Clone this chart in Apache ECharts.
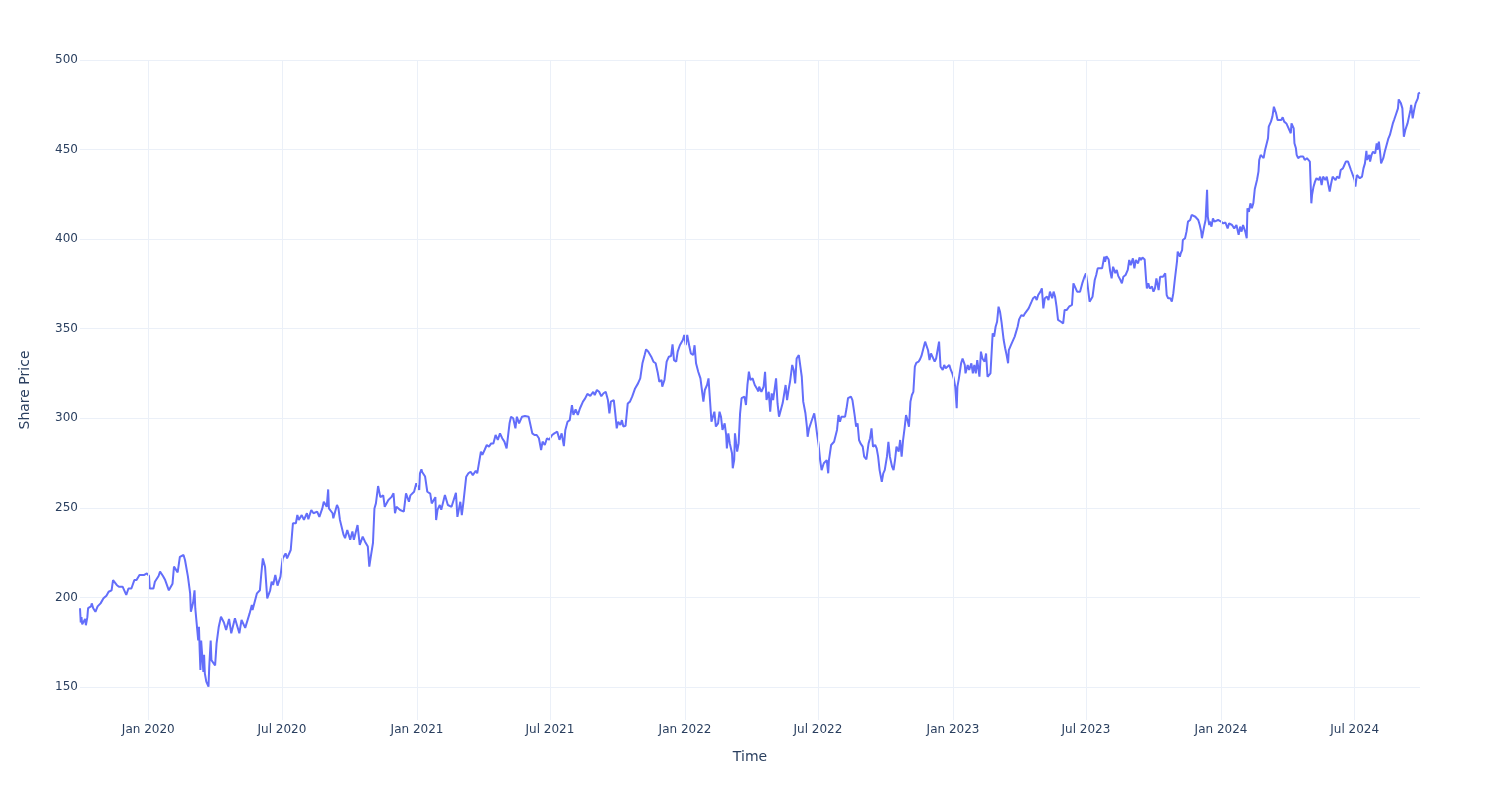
<!DOCTYPE html>
<html>
<head>
<meta charset="utf-8">
<script src="https://cdn.jsdelivr.net/npm/echarts@6/dist/echarts.min.js"></script>
<style>
html,body{margin:0;padding:0;background:#fff;}
#chart{width:1500px;height:800px;}
</style>
</head>
<body>
<div id="chart"></div>
<script>
const dates = [
'2019-09-30','2019-10-01','2019-10-02','2019-10-03','2019-10-07','2019-10-08','2019-10-10','2019-10-11','2019-10-15','2019-10-16','2019-10-18','2019-10-21','2019-10-24','2019-10-28','2019-11-01','2019-11-05','2019-11-08','2019-11-12','2019-11-14','2019-11-19','2019-11-22','2019-11-27','2019-12-02','2019-12-05','2019-12-09','2019-12-13','2019-12-16','2019-12-20','2019-12-26','2019-12-30',
'2020-01-02','2020-01-03','2020-01-08','2020-01-10','2020-01-15','2020-01-17','2020-01-21','2020-01-24','2020-01-29','2020-02-03','2020-02-05','2020-02-10','2020-02-13','2020-02-18','2020-02-20','2020-02-24','2020-02-27','2020-02-28','2020-03-02','2020-03-04','2020-03-05','2020-03-09','2020-03-10','2020-03-11','2020-03-12','2020-03-13','2020-03-16','2020-03-17','2020-03-18','2020-03-20','2020-03-23','2020-03-24','2020-03-26','2020-03-27','2020-04-01','2020-04-03','2020-04-06','2020-04-09','2020-04-13','2020-04-16','2020-04-20','2020-04-23','2020-04-28','2020-05-04','2020-05-07','2020-05-08','2020-05-12','2020-05-18','2020-05-21','2020-05-22','2020-05-28','2020-06-01','2020-06-03','2020-06-05','2020-06-08','2020-06-11','2020-06-15','2020-06-17','2020-06-19','2020-06-22','2020-06-25','2020-06-29','2020-07-02','2020-07-06','2020-07-08','2020-07-13','2020-07-16','2020-07-20','2020-07-22','2020-07-24','2020-07-28','2020-07-31','2020-08-04','2020-08-06','2020-08-10','2020-08-13','2020-08-18','2020-08-21','2020-08-25','2020-08-27','2020-08-31','2020-09-02','2020-09-03','2020-09-08','2020-09-09','2020-09-14','2020-09-16','2020-09-18','2020-09-23','2020-09-25','2020-09-28','2020-10-02','2020-10-05','2020-10-07','2020-10-12','2020-10-13','2020-10-15','2020-10-19','2020-10-22','2020-10-26','2020-10-28','2020-10-30','2020-11-02','2020-11-04','2020-11-06','2020-11-09','2020-11-12','2020-11-16','2020-11-18','2020-11-23','2020-11-27','2020-11-30','2020-12-02','2020-12-04','2020-12-09','2020-12-14','2020-12-17','2020-12-21','2020-12-23','2020-12-28','2020-12-31',
'2021-01-04','2021-01-05','2021-01-07','2021-01-08','2021-01-12','2021-01-15','2021-01-19','2021-01-21','2021-01-22','2021-01-26','2021-01-27','2021-01-29','2021-02-01','2021-02-03','2021-02-08','2021-02-10','2021-02-12','2021-02-17','2021-02-19','2021-02-23','2021-02-25','2021-03-01','2021-03-03','2021-03-05','2021-03-09','2021-03-12','2021-03-15','2021-03-18','2021-03-22','2021-03-24','2021-03-29','2021-03-31','2021-04-03','2021-04-06','2021-04-09','2021-04-12','2021-04-15','2021-04-18','2021-04-21','2021-04-24','2021-04-27','2021-04-30','2021-05-03','2021-05-07','2021-05-09','2021-05-12','2021-05-15','2021-05-17','2021-05-20','2021-05-24','2021-05-28','2021-06-02','2021-06-04','2021-06-07','2021-06-10','2021-06-13','2021-06-16','2021-06-19','2021-06-21','2021-06-24','2021-06-27','2021-06-30','2021-07-04','2021-07-07','2021-07-11','2021-07-14','2021-07-17','2021-07-20','2021-07-22','2021-07-25','2021-07-28','2021-07-31','2021-08-02','2021-08-05','2021-08-08','2021-08-11','2021-08-15','2021-08-18','2021-08-21','2021-08-25','2021-08-29','2021-08-31','2021-09-03','2021-09-06','2021-09-09','2021-09-12','2021-09-15','2021-09-18','2021-09-20','2021-09-22','2021-09-26','2021-09-28','2021-09-30','2021-10-02','2021-10-05','2021-10-07','2021-10-09','2021-10-12','2021-10-15','2021-10-18','2021-10-21','2021-10-25','2021-10-29','2021-11-01','2021-11-04','2021-11-07','2021-11-09','2021-11-12','2021-11-16','2021-11-19','2021-11-22','2021-11-25','2021-11-27','2021-11-30','2021-12-01','2021-12-04','2021-12-07','2021-12-10','2021-12-13','2021-12-15','2021-12-17','2021-12-20','2021-12-22','2021-12-25','2021-12-29','2021-12-31',
'2022-01-02','2022-01-04','2022-01-07','2022-01-09','2022-01-12','2022-01-14','2022-01-16','2022-01-19','2022-01-22','2022-01-24','2022-01-26','2022-01-28','2022-01-31','2022-02-02','2022-02-04','2022-02-06','2022-02-07','2022-02-10','2022-02-12','2022-02-15','2022-02-17','2022-02-19','2022-02-21','2022-02-24','2022-02-26','2022-02-27','2022-03-01','2022-03-03','2022-03-06','2022-03-07','2022-03-09','2022-03-10','2022-03-13','2022-03-15','2022-03-17','2022-03-19','2022-03-23','2022-03-25','2022-03-27','2022-03-29','2022-03-31','2022-04-03','2022-04-06','2022-04-09','2022-04-11','2022-04-12','2022-04-15','2022-04-18','2022-04-20','2022-04-22','2022-04-25','2022-04-27','2022-04-29','2022-05-01','2022-05-05','2022-05-07','2022-05-09','2022-05-11','2022-05-14','2022-05-16','2022-05-18','2022-05-20','2022-05-22','2022-05-24','2022-05-27','2022-05-29','2022-05-31','2022-06-02','2022-06-05','2022-06-07','2022-06-09','2022-06-11','2022-06-14','2022-06-16','2022-06-17','2022-06-19','2022-06-22','2022-06-24','2022-06-26','2022-06-28','2022-06-30','2022-07-02','2022-07-04','2022-07-06','2022-07-09','2022-07-11','2022-07-13','2022-07-15','2022-07-16','2022-07-19','2022-07-21','2022-07-23','2022-07-25','2022-07-27','2022-07-29','2022-07-31','2022-08-02','2022-08-04','2022-08-07','2022-08-09','2022-08-11','2022-08-15','2022-08-17','2022-08-20','2022-08-22','2022-08-24','2022-08-26','2022-08-28','2022-08-31','2022-09-02','2022-09-05','2022-09-08','2022-09-10','2022-09-12','2022-09-14','2022-09-17','2022-09-19','2022-09-21','2022-09-23','2022-09-26','2022-09-28','2022-09-30','2022-10-03','2022-10-05','2022-10-07','2022-10-10','2022-10-12','2022-10-14','2022-10-16','2022-10-19','2022-10-21','2022-10-23','2022-10-25','2022-10-27','2022-10-29','2022-10-31','2022-11-02','2022-11-04','2022-11-06','2022-11-08','2022-11-10','2022-11-12','2022-11-15','2022-11-17','2022-11-19','2022-11-21','2022-11-24','2022-11-26','2022-11-28','2022-11-30','2022-12-02','2022-12-04','2022-12-07','2022-12-09','2022-12-11','2022-12-13','2022-12-15','2022-12-18','2022-12-20','2022-12-22','2022-12-24','2022-12-27','2022-12-29','2022-12-31',
'2023-01-02','2023-01-04','2023-01-06','2023-01-07','2023-01-09','2023-01-12','2023-01-14','2023-01-17','2023-01-18','2023-01-21','2023-01-23','2023-01-26','2023-01-28','2023-01-30','2023-02-01','2023-02-03','2023-02-06','2023-02-08','2023-02-10','2023-02-13','2023-02-15','2023-02-17','2023-02-19','2023-02-21','2023-02-24','2023-02-26','2023-02-28','2023-03-02','2023-03-04','2023-03-06','2023-03-08','2023-03-11','2023-03-13','2023-03-15','2023-03-17','2023-03-18','2023-03-21','2023-03-23','2023-03-26','2023-03-28','2023-03-30','2023-04-01','2023-04-04','2023-04-07','2023-04-09','2023-04-11','2023-04-14','2023-04-16','2023-04-18','2023-04-20','2023-04-23','2023-04-25','2023-04-27','2023-04-30','2023-05-02','2023-05-04','2023-05-06','2023-05-09','2023-05-11','2023-05-13','2023-05-16','2023-05-18','2023-05-20','2023-05-22','2023-05-24','2023-05-26','2023-05-28','2023-05-31','2023-06-02','2023-06-05','2023-06-08','2023-06-12','2023-06-14','2023-06-16','2023-06-19','2023-06-21','2023-06-23','2023-06-26','2023-06-29','2023-07-01','2023-07-03','2023-07-06','2023-07-08','2023-07-10','2023-07-13','2023-07-15','2023-07-17','2023-07-19','2023-07-23','2023-07-26','2023-07-27','2023-07-29','2023-08-01','2023-08-03','2023-08-05','2023-08-07','2023-08-10','2023-08-12','2023-08-14','2023-08-17','2023-08-19','2023-08-21','2023-08-24','2023-08-27','2023-08-29','2023-08-31','2023-09-03','2023-09-05','2023-09-07','2023-09-10','2023-09-12','2023-09-14','2023-09-16','2023-09-19','2023-09-21','2023-09-22','2023-09-24','2023-09-26','2023-09-29','2023-10-01','2023-10-03','2023-10-05','2023-10-08','2023-10-10','2023-10-12','2023-10-14','2023-10-17','2023-10-19','2023-10-21','2023-10-24','2023-10-26','2023-10-28','2023-10-30','2023-11-02','2023-11-03','2023-11-06','2023-11-07','2023-11-09','2023-11-10','2023-11-13','2023-11-15','2023-11-17','2023-11-20','2023-11-22','2023-11-24','2023-11-27','2023-11-29','2023-12-01','2023-12-03','2023-12-05','2023-12-06','2023-12-08','2023-12-09','2023-12-11','2023-12-13','2023-12-14','2023-12-16','2023-12-17','2023-12-19','2023-12-21','2023-12-23','2023-12-25','2023-12-28',
'2024-01-01','2024-01-04','2024-01-07','2024-01-10','2024-01-12','2024-01-16','2024-01-19','2024-01-22','2024-01-25','2024-01-27','2024-01-29','2024-01-31','2024-02-03','2024-02-05','2024-02-06','2024-02-08','2024-02-10','2024-02-12','2024-02-14','2024-02-16','2024-02-19','2024-02-21','2024-02-22','2024-02-24','2024-02-26','2024-02-28','2024-03-01','2024-03-03','2024-03-05','2024-03-06','2024-03-09','2024-03-11','2024-03-13','2024-03-15','2024-03-16','2024-03-18','2024-03-20','2024-03-23','2024-03-25','2024-03-27','2024-03-30','2024-04-01','2024-04-03','2024-04-05','2024-04-06','2024-04-09','2024-04-10','2024-04-12','2024-04-13','2024-04-15','2024-04-18','2024-04-20','2024-04-22','2024-04-24','2024-04-27','2024-04-29','2024-05-01','2024-05-03','2024-05-04','2024-05-06','2024-05-08','2024-05-10','2024-05-13','2024-05-15','2024-05-17','2024-05-19','2024-05-22','2024-05-24','2024-05-26','2024-05-28','2024-05-30','2024-06-01','2024-06-03','2024-06-05','2024-06-07','2024-06-10','2024-06-12','2024-06-15','2024-06-17','2024-06-19','2024-06-22','2024-06-24','2024-06-26','2024-06-28','2024-07-01','2024-07-02','2024-07-04','2024-07-06','2024-07-08','2024-07-11','2024-07-13','2024-07-15','2024-07-17','2024-07-18','2024-07-21','2024-07-22','2024-07-24','2024-07-26','2024-07-29','2024-07-31','2024-08-01','2024-08-03','2024-08-05','2024-08-06','2024-08-09','2024-08-11','2024-08-13','2024-08-16','2024-08-18','2024-08-20','2024-08-22','2024-08-24','2024-08-26','2024-08-29','2024-08-30','2024-09-02','2024-09-04','2024-09-06','2024-09-08','2024-09-11','2024-09-13','2024-09-15','2024-09-16','2024-09-18','2024-09-20','2024-09-22','2024-09-25','2024-09-26','2024-09-28'
];

const prices = [
194,186,189,185,188,184.5,189,194,195,196.7,194,192,195,196.7,199.5,201,203.2,204,209.7,207,206,206,201.4,205,205,209.7,209.7,212.5,212.5,213.4,
212,205,205,208.8,212,214.4,212,209.7,204,207.7,217.2,214,222.7,223.7,220.9,211.6,202.3,192,197,204,194,176,183.7,170.6,159.5,176,158.5,168,157.6,153,150.2,161.3,176,165,162,174.4,183.7,189.2,186,181.8,188,180,188.4,180,187.4,188,183,191.1,195.8,193,202.3,204,213.5,221.8,217.2,199.5,204,208.8,207,212.5,206.6,211.6,221.8,224.6,221.8,226.5,241.4,241.4,246,243.3,246,243.3,247,243.7,248.8,247,247.9,245,249.7,253.4,250.6,260.3,249.7,247,244.2,251.6,249.7,243.3,234.9,233.1,237.7,232.2,236.8,232.2,240.4,239.5,229.3,234,231.3,228.4,217.2,222.7,230.4,249.7,252.5,262.2,256,257,250.6,254.4,256,258.1,247,250.6,248.8,247.9,258.1,253.4,257,259,263.7,
260,269.3,271.5,270,267.5,259,258,252.5,251.6,256,243.2,249,251.6,249,257.2,256.3,251.6,250.6,251.6,258.4,245,253.4,245.9,252.5,267.4,269.3,270.2,268.3,270.7,269.3,281.4,279.6,282.3,285.1,284.2,286,286,290.7,288,291.6,288.9,287,283.2,297.2,300.9,300,294.4,300.9,297.2,300.9,301.3,300.9,297.2,291.6,290.7,290.7,288.9,282.3,287,285.1,288.9,288,290.7,291.6,292.5,288,291.6,284.5,293.5,298.1,299,307.4,301.9,305,301.9,305.6,309.3,311.1,313.6,312.5,314.8,313,315.8,314.8,312.3,314,314.8,310.2,302.8,309.3,310.2,302.8,294.4,298.1,296.3,299,295.4,295.8,308.3,309.3,312.1,316.7,319.5,322.3,330.7,335.3,338.5,337.2,334.4,331.6,330.7,325.1,320.4,321.4,317.7,321.4,331.6,334.4,334.8,341.3,332.5,331.6,337.2,340.8,343.7,346.5,
340.8,346.5,339.9,336.2,335.3,340.8,330.7,326,322.3,315.8,309.3,315.8,318.6,322.3,310.2,298.1,297.2,303.7,295.4,297.2,303.7,300.9,293.5,297.2,290.7,283.2,291.6,286,280.5,272.1,276.8,291.6,281.4,286,302.8,311.2,312.1,307.4,318.6,326,321.4,322.3,318.6,316.5,315,317.6,314.8,317.6,326,310.2,314.8,303.7,313.9,310.2,322.3,308.3,300.9,300,308.5,309.3,318.6,310.2,315.8,320.4,329.8,327,319.5,333.4,335.3,335.3,323.2,309.3,302.8,295.3,289.7,294.4,298.1,297.2,302.8,297.2,290.7,285.1,276.7,271.1,274.9,273.9,276.7,269.3,276.7,285.1,286,286.9,287.9,293.5,301.8,298.1,300.9,301.8,300.9,305.6,311.2,312.1,310.2,301.8,295.3,297.2,287.9,286,284.2,278.6,277.1,286,288.9,294.4,284.2,285.1,283.2,278.6,271.1,264.6,269.3,271.1,278.6,286.9,278.6,273,271.1,276.7,284.2,281.4,287.9,278.6,287.9,294.4,301.8,299,295.3,309.3,313,314.8,328.8,330.9,331.6,332.9,334.8,335.3,342.8,343.7,338,332.5,336.2,334.4,331.6,333.4,332.5,342.8,328.8,327,329.8,327.9,328.8,329.8,327,325.1,
322.3,317.7,305.6,317.7,322.3,330.7,333.4,329.8,325.1,329.8,327,330.7,325.1,329.8,325.1,332.5,323.2,337.2,333.4,331.6,336.2,323.2,322.3,325.1,347.4,345.6,351.1,353.9,362.3,359.5,353.9,343.7,339.1,335.3,330.7,338.1,341,341.9,345.6,348.4,351.1,355.2,357.6,357.1,358.6,359.5,361.4,362.3,365.1,367,367.9,366,368.8,370.7,372.5,361.4,367,367.9,366,370.7,367,370.7,367.9,362.3,354.9,355.8,353.9,353,360.5,360.5,362.3,363.3,375.3,373.5,370.7,371.6,370.7,375.3,379,380.9,375.3,365.1,366,367.9,377.2,380,383.7,384.6,383.7,390.2,387.4,390.5,388.6,382.2,378.1,384.6,381,382.8,379.5,377.2,375.3,379,380,382.8,388.4,385.5,389.3,383.7,388.4,386.5,389.8,388.4,389.8,388.7,377.2,372.5,375.3,372.5,373.5,370.7,372.5,378.1,371.6,379,378.1,379,381,368.8,367,367,365.1,369.7,377.2,387.4,393,390.2,392,393.9,399.5,400.5,404.2,409.8,410.7,413.5,414.4,412.5,413.5,410.7,407.9,404.2,400.5,399.5,407,410.7,427.5,412.5,407.9,409.8,407,411.6,409.8,410.7,410.7,
409.8,408.8,409.3,406,408.8,407.9,406,407.9,402.4,407,404.2,407.9,404.2,400.5,417.2,415.3,420,417.2,420,428,433,437.7,444.2,447,447,445.2,449.8,450.7,456.3,462.8,465.6,468.4,473.9,474.9,470.2,466.5,467.4,466.5,468,465.6,464.6,462.8,463.7,459.1,464.6,461.8,453.5,450.7,447,445.2,446.1,445.2,446.1,444.2,445.2,444.2,443.3,420,424.7,429.3,432.1,434,433,434.9,430.2,434.9,433,434.9,434,426.5,431.1,434.9,434,433,434.9,434,438.6,439.5,441.4,443.3,443.3,442.3,438.6,437.7,433,429.3,435.8,435.8,434,434.9,439.5,442.3,449.3,444.2,447,443.3,447,448.8,447.9,453.5,449.8,454.4,447,442.3,445.2,448.8,449.8,456.3,458.2,459.1,464.6,466.9,469.3,473,478,475.8,473,457.2,460.9,464.6,468.4,472.1,474.9,467.4,472.1,475.8,478.6,481.4,481.8
];

const xTickDates = ['2020-01-01','2020-07-01','2021-01-01','2021-07-01','2022-01-01','2022-07-01','2023-01-01','2023-07-01','2024-01-01','2024-07-01'];
const monthNames = ['Jan','Feb','Mar','Apr','May','Jun','Jul','Aug','Sep','Oct','Nov','Dec'];
const xTitle = 'Time';
const yTitle = 'Share Price';

const seriesData = dates.map((d, i) => [d, prices[i]]);
const FONT = '"DejaVu Sans", Verdana, sans-serif';
const GRID = '#EBF0F8';
const DAY = 86400000;

const chart = echarts.init(document.getElementById('chart'), null, {renderer: 'canvas'});
chart.setOption({
  animation: false,
  backgroundColor: '#ffffff',
  grid: {left: 80, right: 80, top: 60, bottom: 80, containLabel: false},
  xAxis: {
    type: 'time',
    min: 'dataMin',
    max: 'dataMax',
    minInterval: 180 * DAY,
    maxInterval: 180 * DAY,
    name: xTitle,
    nameLocation: 'middle',
    nameGap: 30,
    nameTextStyle: {color: '#2a3f5f', fontSize: 14, fontFamily: FONT},
    axisLine: {show: false},
    axisTick: {show: false},
    axisLabel: {
      color: '#2a3f5f', fontSize: 12, fontFamily: FONT, margin: 4,
      showMinLabel: false, showMaxLabel: false,
      hideOverlap: false,
      formatter: function (v) {
        const d = new Date(v);
        if (d.getDate() === 1 && (d.getMonth() === 0 || d.getMonth() === 6)) {
          return monthNames[d.getMonth()] + ' ' + d.getFullYear();
        }
        return '';
      }
    },
    splitLine: {show: false}
  },
  yAxis: {
    type: 'value',
    min: 131.6,
    max: 500,
    minInterval: 50,
    maxInterval: 50,
    name: yTitle,
    nameLocation: 'middle',
    nameGap: 48,
    nameTextStyle: {color: '#2a3f5f', fontSize: 14, fontFamily: FONT},
    axisLine: {show: false},
    axisTick: {show: false},
    axisLabel: {
      color: '#2a3f5f', fontSize: 12, fontFamily: FONT, margin: 2,
      showMinLabel: false,
      formatter: function (v) { return (v % 50 === 0) ? String(v) : ''; }
    },
    splitLine: {show: true, showMinLine: false, lineStyle: {color: GRID, width: 1}}
  },
  series: [{
    type: 'line',
    z: 1,
    data: [],
    silent: true,
    markLine: {
      silent: true,
      symbol: ['none', 'none'],
      label: {show: false},
      emphasis: {disabled: true},
      lineStyle: {color: GRID, width: 1, type: 'solid'},
      data: xTickDates.map(d => ({xAxis: d}))
    }
  }, {
    type: 'line',
    z: 3,
    data: seriesData,
    showSymbol: false,
    symbol: 'none',
    sampling: null,
    lineStyle: {color: '#636efa', width: 2},
    itemStyle: {color: '#636efa'}
  }]
});
</script>
</body>
</html>
